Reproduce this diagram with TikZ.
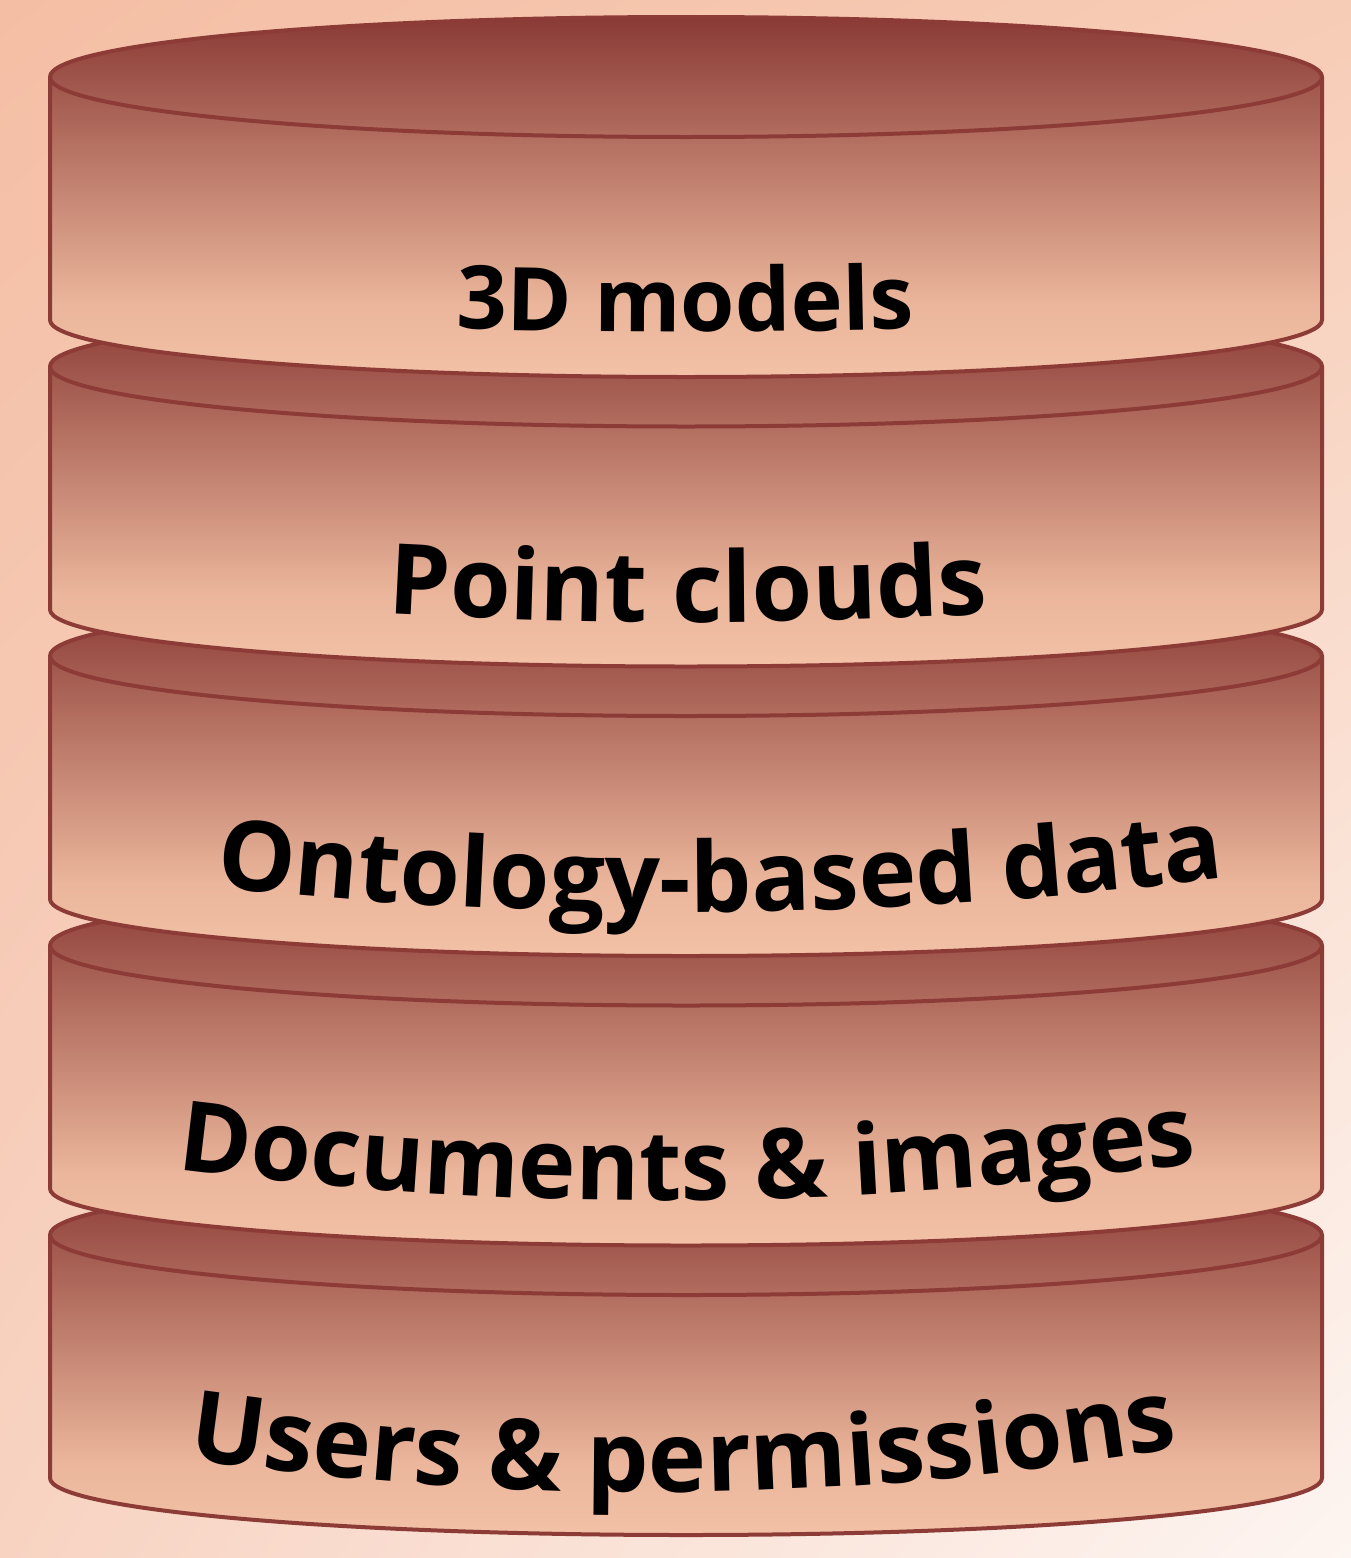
\documentclass[tikz,border=0pt]{standalone}
\usepackage{fontspec}
\setmainfont{Open Sans}
\usetikzlibrary{decorations.text,shadings}
\definecolor{bgUL}{HTML}{F4BEA4}
\definecolor{bgUR}{HTML}{F7CCB6}
\definecolor{bgLL}{HTML}{F8D3C2}
\definecolor{bgLR}{HTML}{FDF5F1}
\definecolor{cyllight}{HTML}{F2C1A6}
\definecolor{cylmid}{HTML}{EBB69B}
\definecolor{cyldark}{HTML}{8A3A35}
\definecolor{cylborder}{HTML}{8C3B37}
\pgfdeclareverticalshading{cylshade}{100bp}{color(0bp)=(cyllight); color(25bp)=(cyllight); color(35bp)=(cylmid); color(75bp)=(cyldark); color(100bp)=(cyldark)}
\newcommand\lblA{\fontsize{88pt}{88pt}\selectfont\bfseries}
\newcommand\lblB{\fontsize{98pt}{98pt}\selectfont\bfseries}
\newcommand\lblC{\fontsize{97.5pt}{97.5pt}\selectfont\bfseries}
\newcommand\lblD{\fontsize{97.5pt}{97.5pt}\selectfont\bfseries}
\newcommand\lblE{\fontsize{98.5pt}{98.5pt}\selectfont\bfseries}
\newcommand\cylinderat[2]{%
  \shade[shading=cylshade] (50,-#1) arc[start angle=180,end angle=0,x radius=636pt,y radius=60pt] -- (1322,-#2) arc[start angle=0,end angle=-180,x radius=636pt,y radius=57pt] -- cycle;
  \draw[cylline] (50,-#1) arc[start angle=180,end angle=0,x radius=636pt,y radius=60pt] -- (1322,-#2) arc[start angle=0,end angle=-180,x radius=636pt,y radius=57pt] -- cycle;
  \draw[cylline] (50,-#1) arc[start angle=180,end angle=360,x radius=636pt,y radius=60pt];
}
\tikzset{
  cylline/.style={draw=cylborder, line width=4pt, line join=round},
  curvedlabel/.style={decorate, decoration={text along path, text={#1}, text align=center}}
}
\begin{document}
\begin{tikzpicture}[x=1pt,y=1pt]
\useasboundingbox (0,0) rectangle (1351,-1558);
\shade[upper left=bgUL, upper right=bgUR, lower left=bgLL, lower right=bgLR] (0,0) rectangle (1351,-1558);
\cylinderat{1235}{1478}
\cylinderat{945.5}{1188.5}
\cylinderat{656}{899}
\cylinderat{366.5}{609.5}
\cylinderat{77}{320}
\path[curvedlabel={|\lblA|3D models}] (395,-327) .. controls (588,-333.4) and (782,-333.4) .. (975,-327);
\path[curvedlabel={|\lblB|Point clouds}] (332,-610.4) .. controls (569,-626) and (807,-626) .. (1044,-610.4);
\path[curvedlabel={|\lblC|Ontology-based data}] (160,-880.6) .. controls (533,-926) and (907,-922) .. (1280,-870.6);
\path[curvedlabel={|\lblD|Documents {\&} images}] (119,-1161.5) .. controls (498,-1216) and (876,-1212) .. (1255,-1154.5);
\path[curvedlabel={|\lblE|Users {\&} permissions}] (130,-1450) .. controls (500,-1510) and (868,-1506) .. (1236,-1438);
\end{tikzpicture}
\end{document}
